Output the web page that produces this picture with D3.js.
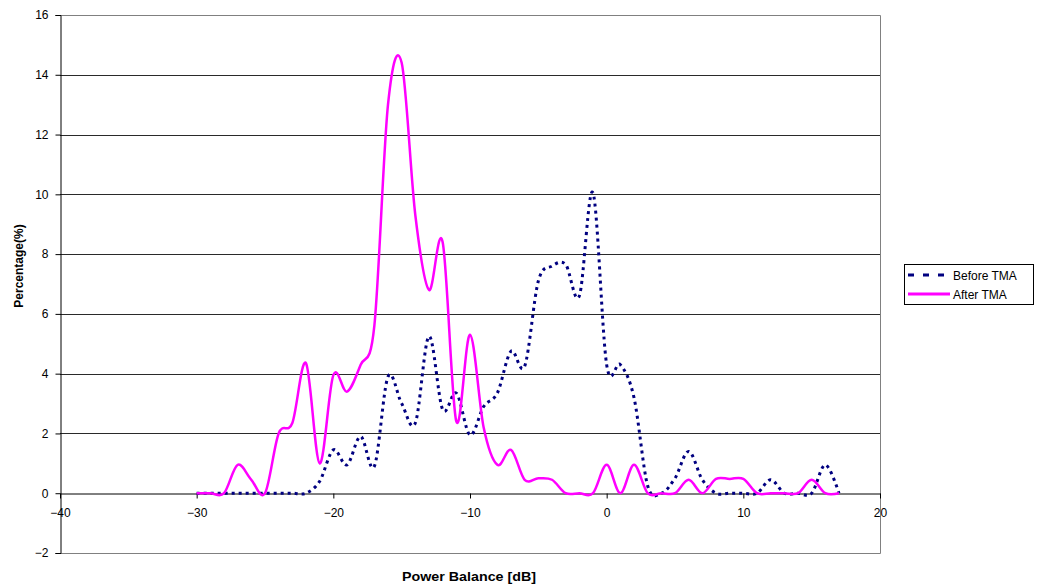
<!DOCTYPE html>
<html>
<head>
<meta charset="utf-8">
<script src="https://cdn.jsdelivr.net/npm/d3@7"></script>
<style>
  body { margin: 0; background: #fff; }
  svg { display: block; font-family: "Liberation Sans", Arial, sans-serif; }
</style>
</head>
<body>
<svg id="chart" width="1037" height="588"></svg>
<script>
// power balance in dB, one point per dB
const balance = d3.range(-30, 18);

const beforeTMA = [
  0, 0, 0, 0, 0, 0, 0, 0, 0, 0.4,          // -30 .. -21
  1.45, 0.95, 1.9, 0.9, 3.9, 3.0, 2.35, 5.25, 2.8, 3.35, // -20 .. -11
  1.95, 2.9, 3.35, 4.75, 4.25, 7.1, 7.6, 7.65, 6.6, 10.05, // -10 .. -1
  4.3, 4.3, 3.2, 0.25, 0, 0.5, 1.4, 0.45, 0, 0,           // 0 .. 9
  0, 0, 0.45, 0, 0, 0, 0.95, 0                              // 10 .. 17
];

const afterTMA = [
  0, 0, 0, 0.95, 0.45, 0, 2.0, 2.35, 4.35, 1.0,
  3.95, 3.4, 4.3, 5.6, 13.0, 14.4, 9.3, 6.8, 8.4, 2.4,
  5.3, 2.2, 0.95, 1.45, 0.45, 0.5, 0.45, 0, 0, 0,
  0.95, 0, 0.95, 0, 0, 0, 0.45, 0, 0.48, 0.48,
  0.48, 0, 0, 0, 0, 0.45, 0, 0
];

const xTicks = [-40, -30, -20, -10, 0, 10, 20];
const yTicks = [-2, 0, 2, 4, 6, 8, 10, 12, 14, 16];

const seriesNames = ["Before TMA", "After TMA"];
const seriesColors = ["#000080", "#ff00ff"];

const svg = d3.select("#chart");
const margin = { top: 15, right: 157, bottom: 35, left: 60 };
const width = 1037, height = 588;

const x = d3.scaleLinear().domain([-40, 20]).range([margin.left, width - margin.right]);
const y = d3.scaleLinear().domain([-2, 16]).range([height - margin.bottom, margin.top]);

// grid lines
svg.append("g")
  .selectAll("line")
  .data(yTicks.filter(d => d > -2 && d !== 0))
  .join("line")
  .attr("x1", x(-40)).attr("x2", x(20))
  .attr("y1", d => Math.round(y(d)) + 0.5).attr("y2", d => Math.round(y(d)) + 0.5)
  .attr("stroke", "#2a2a2a").attr("stroke-width", 1);

// plot frame (top, right, bottom)
svg.append("path")
  .attr("d", `M${x(-40)},${Math.round(y(16)) + 0.5}H${Math.round(x(20)) + 0.5}V${Math.round(y(-2)) + 0.5}H${x(-40)}`)
  .attr("fill", "none")
  .attr("stroke", "#808080");

// y axis
const yAxis = svg.append("g")
  .attr("transform", `translate(${x(-40) + 0.5},0)`)
  .call(d3.axisLeft(y).tickValues(yTicks).tickSize(5).tickPadding(7));
yAxis.select(".domain").attr("stroke", "#000");
yAxis.selectAll("text").attr("font-size", 12).attr("fill", "#000").attr("font-family", "Liberation Sans, Arial, sans-serif");

// x axis sits on y = 0
const xAxis = svg.append("g")
  .attr("transform", `translate(0,${Math.round(y(0)) + 0.5})`)
  .call(d3.axisBottom(x).tickValues(xTicks).tickSize(5).tickSizeOuter(0).tickPadding(10));
xAxis.select(".domain").attr("stroke", "#000");
xAxis.selectAll("text").attr("font-size", 12).attr("fill", "#000").attr("font-family", "Liberation Sans, Arial, sans-serif");

// lines
const line = d3.line()
  .x((d, i) => x(balance[i]))
  .y(d => y(d))
  .curve(d3.curveCardinal.tension(0));

svg.append("path")
  .datum(beforeTMA)
  .attr("fill", "none")
  .attr("stroke", seriesColors[0])
  .attr("stroke-width", 3)
  .attr("stroke-dasharray", "3,4")
  .attr("d", line);

svg.append("path")
  .datum(afterTMA)
  .attr("fill", "none")
  .attr("stroke", seriesColors[1])
  .attr("stroke-width", 2.5)
  .attr("d", line);

// axis titles
svg.append("text")
  .attr("x", 469).attr("y", 581)
  .attr("text-anchor", "middle")
  .attr("font-size", 13).attr("font-weight", "bold")
  .attr("textLength", 134).attr("lengthAdjust", "spacingAndGlyphs")
  .text("Power Balance [dB]");

svg.append("text")
  .attr("transform", "translate(23,266) rotate(-90)")
  .attr("text-anchor", "middle")
  .attr("font-size", 12).attr("font-weight", "bold")
  .text("Percentage(%)");

// legend
const legend = svg.append("g").attr("transform", "translate(904,264)");
legend.append("rect")
  .attr("x", 0.5).attr("y", 0.5)
  .attr("width", 129).attr("height", 40)
  .attr("fill", "#fff").attr("stroke", "#000");

seriesNames.forEach((name, i) => {
  const ly = 11 + i * 19;
  legend.append("line")
    .attr("x1", 4).attr("x2", 46)
    .attr("y1", ly).attr("y2", ly)
    .attr("stroke", seriesColors[i])
    .attr("stroke-width", 3)
    .attr("stroke-dasharray", i === 0 ? "6,9" : null);
  legend.append("text")
    .attr("x", 49).attr("y", ly + 4.5)
    .attr("font-size", 12)
    .text(name);
});
</script>
</body>
</html>
